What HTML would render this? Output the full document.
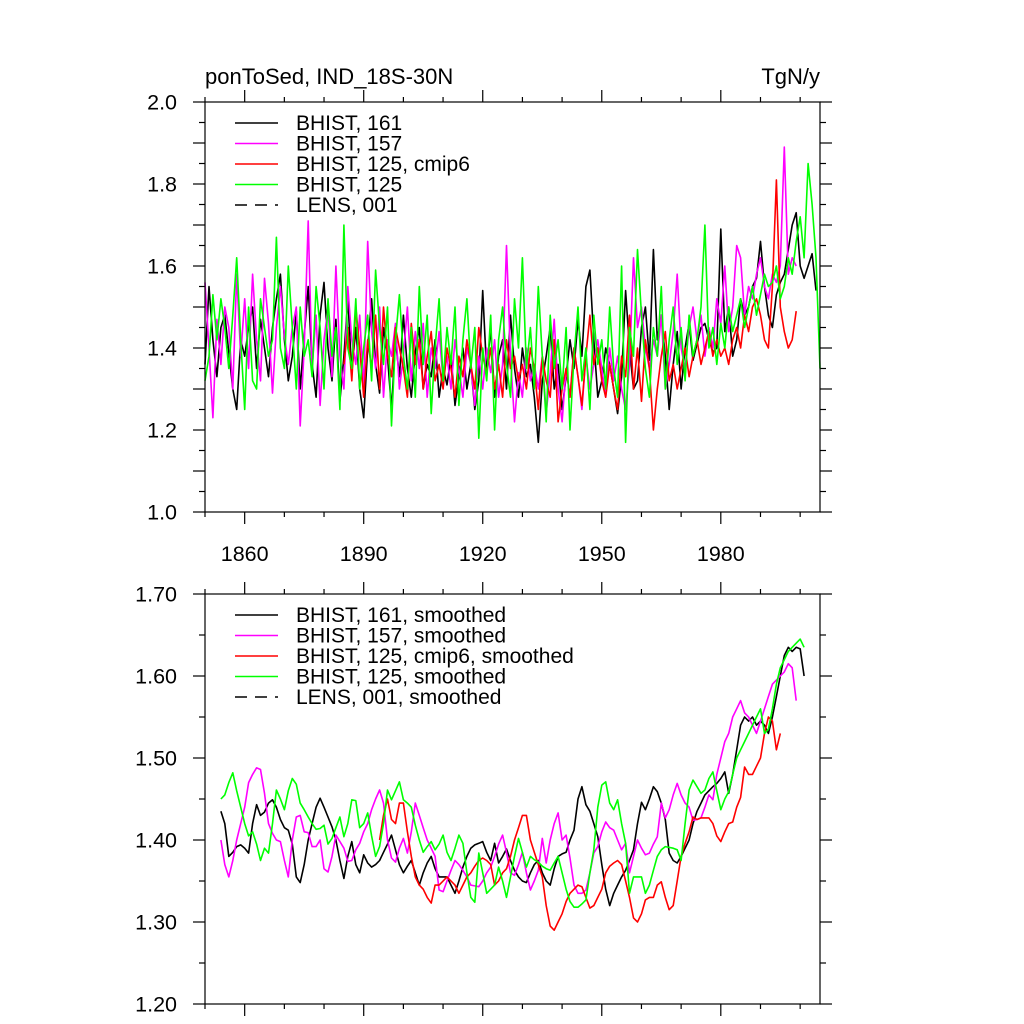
<!DOCTYPE html>
<html><head><meta charset="utf-8"><style>
body{margin:0;background:#fff}
svg{display:block;font-family:"Liberation Sans",sans-serif}
</style></head><body>
<svg id="c" width="1024" height="1024" xmlns="http://www.w3.org/2000/svg"></svg>
<script>
// ---------- data ----------
const topBlackStart=1850;
const topBlack=[1.36,1.55,1.42,1.33,1.45,1.48,1.39,1.30,1.25,1.42,
1.38,1.45,1.50,1.35,1.47,1.40,1.33,1.45,1.52,1.58,
1.42,1.32,1.38,1.49,1.30,1.43,1.55,1.36,1.28,1.48,
1.56,1.40,1.32,1.47,1.27,1.38,1.52,1.34,1.45,1.30,
1.23,1.40,1.52,1.36,1.29,1.45,1.38,1.25,1.42,1.33,
1.48,1.35,1.28,1.39,1.45,1.30,1.36,1.33,1.42,1.28,
1.35,1.31,1.38,1.26,1.33,1.40,1.30,1.36,1.25,1.32,
1.54,1.34,1.45,1.28,1.38,1.42,1.30,1.48,1.35,1.28,
1.40,1.33,1.36,1.28,1.17,1.32,1.38,1.45,1.30,1.36,
1.25,1.33,1.42,1.35,1.47,1.38,1.55,1.59,1.42,1.28,
1.32,1.40,1.36,1.30,1.24,1.33,1.54,1.40,1.30,1.32,
1.45,1.50,1.37,1.64,1.42,1.48,1.38,1.25,1.36,1.44,
1.30,1.40,1.46,1.37,1.41,1.45,1.46,1.42,1.39,1.40,
1.69,1.44,1.50,1.38,1.42,1.52,1.48,1.50,1.55,1.57,
1.66,1.55,1.48,1.45,1.53,1.56,1.58,1.64,1.70,1.73,
1.60,1.57,1.60,1.63,1.54];
const topMagentaStart=1850;
const topMagenta=[1.56,1.40,1.23,1.47,1.36,1.50,1.45,1.30,1.58,1.38,
1.52,1.35,1.58,1.42,1.32,1.57,1.46,1.29,1.45,1.55,
1.43,1.36,1.45,1.50,1.21,1.40,1.71,1.35,1.48,1.26,
1.42,1.50,1.33,1.60,1.38,1.30,1.55,1.42,1.36,1.48,
1.30,1.66,1.44,1.35,1.50,1.28,1.42,1.38,1.46,1.30,
1.38,1.50,1.32,1.44,1.35,1.46,1.28,1.40,1.35,1.44,
1.32,1.38,1.30,1.42,1.35,1.28,1.40,1.36,1.26,1.38,
1.30,1.40,1.34,1.42,1.28,1.36,1.65,1.38,1.22,1.34,
1.28,1.40,1.32,1.36,1.30,1.38,1.24,1.34,1.47,1.30,
1.22,1.35,1.28,1.40,1.33,1.25,1.38,1.30,1.36,1.42,
1.35,1.28,1.40,1.32,1.38,1.30,1.25,1.36,1.62,1.45,
1.50,1.40,1.35,1.42,1.38,1.48,1.30,1.36,1.44,1.58,
1.40,1.35,1.45,1.50,1.42,1.48,1.38,1.45,1.40,1.52,
1.46,1.60,1.44,1.50,1.65,1.62,1.48,1.55,1.52,1.58,
1.62,1.55,1.52,1.58,1.56,1.60,1.89,1.58,1.62,1.60];
const topRedStart=1885;
const topRed=[1.36,1.45,1.32,1.50,1.40,
1.28,1.42,1.35,1.48,1.30,1.50,1.38,1.33,1.45,1.40,
1.35,1.28,1.46,1.36,1.42,1.30,1.38,1.44,1.32,1.36,
1.30,1.40,1.35,1.28,1.38,1.33,1.42,1.36,1.30,1.45,
1.38,1.34,1.40,1.30,1.36,1.28,1.42,1.35,1.38,1.32,
1.36,1.30,1.40,1.35,1.25,1.38,1.32,1.28,1.42,1.22,
1.30,1.35,1.28,1.40,1.33,1.26,1.38,1.48,1.36,1.40,
1.32,1.28,1.36,1.30,1.25,1.38,1.33,1.48,1.30,1.40,
1.27,1.42,1.35,1.20,1.30,1.38,1.44,1.32,1.36,1.30,
1.35,1.40,1.33,1.38,1.42,1.36,1.40,1.44,1.38,1.42,
1.38,1.40,1.36,1.42,1.45,1.40,1.48,1.44,1.50,1.52,
1.48,1.42,1.40,1.55,1.81,1.50,1.44,1.40,1.42,1.49];
const topGreenStart=1850;
const topGreen=[1.32,1.38,1.53,1.42,1.52,1.45,1.35,1.48,1.62,1.42,
1.25,1.50,1.32,1.30,1.52,1.45,1.38,1.42,1.67,1.40,
1.35,1.60,1.45,1.30,1.50,1.38,1.42,1.33,1.55,1.45,
1.30,1.52,1.38,1.45,1.25,1.70,1.40,1.35,1.52,1.30,
1.40,1.48,1.32,1.59,1.45,1.36,1.50,1.21,1.42,1.53,
1.38,1.30,1.45,1.28,1.55,1.36,1.48,1.24,1.40,1.52,
1.32,1.45,1.36,1.50,1.26,1.42,1.52,1.35,1.45,1.18,
1.40,1.32,1.48,1.20,1.42,1.50,1.36,1.28,1.52,1.40,
1.62,1.35,1.45,1.30,1.55,1.38,1.22,1.48,1.35,1.42,
1.30,1.45,1.20,1.38,1.50,1.32,1.40,1.25,1.48,1.36,
1.42,1.30,1.50,1.35,1.28,1.60,1.17,1.45,1.38,1.64,
1.48,1.35,1.28,1.45,1.38,1.55,1.30,1.42,1.50,1.36,
1.45,1.32,1.48,1.38,1.42,1.50,1.70,1.40,1.45,1.36,
1.46,1.40,1.50,1.44,1.48,1.52,1.45,1.50,1.55,1.48,
1.53,1.58,1.55,1.56,1.60,1.52,1.55,1.62,1.58,1.66,
1.72,1.62,1.85,1.75,1.62,1.35];

const botBlackStart=1854;
const botBlack=[1.435,1.420,1.380,1.385,1.392,1.394,
1.390,1.384,1.420,1.443,1.430,1.434,1.445,1.449,1.440,1.425,
1.415,1.412,1.395,1.355,1.348,1.370,1.400,1.420,1.440,1.451,
1.440,1.428,1.416,1.400,1.375,1.353,1.380,1.398,1.370,1.360,
1.382,1.372,1.367,1.370,1.375,1.385,1.395,1.406,1.388,1.370,
1.360,1.368,1.375,1.360,1.345,1.360,1.372,1.380,1.365,1.355,
1.355,1.355,1.345,1.335,1.350,1.367,1.380,1.390,1.394,1.396,
1.398,1.385,1.375,1.396,1.372,1.380,1.389,1.375,1.363,1.355,
1.350,1.348,1.360,1.370,1.375,1.360,1.350,1.345,1.365,1.380,
1.383,1.385,1.400,1.412,1.450,1.465,1.443,1.435,1.420,1.404,
1.370,1.340,1.320,1.335,1.345,1.355,1.363,1.375,1.388,1.420,
1.446,1.437,1.450,1.465,1.459,1.445,1.425,1.384,1.375,1.372,
1.380,1.390,1.400,1.420,1.435,1.445,1.455,1.460,1.465,1.469,
1.475,1.483,1.457,1.480,1.510,1.540,1.550,1.545,1.550,1.540,
1.545,1.540,1.530,1.550,1.575,1.600,1.625,1.635,1.630,1.635,
1.633,1.600];
const botMagentaStart=1854;
const botMagenta=[1.400,1.370,1.355,1.375,1.400,1.420,
1.440,1.470,1.480,1.488,1.486,1.457,1.420,1.408,1.400,1.398,
1.375,1.355,1.400,1.428,1.430,1.410,1.409,1.392,1.392,1.400,
1.365,1.361,1.380,1.406,1.398,1.390,1.374,1.375,1.388,1.396,
1.410,1.420,1.437,1.450,1.461,1.445,1.400,1.378,1.373,1.390,
1.402,1.384,1.410,1.445,1.430,1.415,1.400,1.390,1.380,1.339,
1.337,1.350,1.363,1.375,1.370,1.363,1.355,1.345,1.344,1.343,
1.350,1.360,1.367,1.380,1.395,1.406,1.385,1.360,1.357,1.370,
1.385,1.360,1.339,1.350,1.363,1.402,1.372,1.400,1.420,1.433,
1.400,1.406,1.378,1.345,1.335,1.335,1.339,1.360,1.384,1.392,
1.410,1.422,1.415,1.412,1.400,1.388,1.396,1.360,1.380,1.400,
1.390,1.382,1.384,1.395,1.404,1.445,1.427,1.437,1.455,1.469,
1.455,1.445,1.440,1.424,1.425,1.427,1.440,1.455,1.449,1.480,
1.500,1.520,1.530,1.550,1.560,1.570,1.555,1.550,1.540,1.530,
1.545,1.560,1.575,1.590,1.595,1.600,1.605,1.615,1.610,1.570];
const botRedStart=1894;
const botRed=[1.400,1.430,1.450,1.425,1.420,1.445,
1.445,1.410,1.380,1.355,1.345,1.340,1.330,1.323,1.345,1.345,
1.350,1.355,1.350,1.345,1.335,1.345,1.355,1.360,1.368,1.375,
1.378,1.375,1.370,1.345,1.350,1.360,1.365,1.380,1.400,1.415,
1.430,1.430,1.400,1.385,1.370,1.355,1.320,1.295,1.290,1.300,
1.310,1.325,1.335,1.340,1.345,1.343,1.330,1.317,1.320,1.330,
1.340,1.360,1.368,1.372,1.375,1.370,1.350,1.330,1.305,1.300,
1.310,1.327,1.330,1.330,1.345,1.349,1.330,1.315,1.320,1.350,
1.380,1.396,1.410,1.428,1.425,1.427,1.427,1.427,1.420,1.405,
1.398,1.410,1.420,1.422,1.440,1.452,1.489,1.480,1.480,1.490,
1.500,1.530,1.550,1.545,1.510,1.530];
const botGreenStart=1854;
const botGreen=[1.450,1.455,1.470,1.482,1.460,1.440,
1.420,1.405,1.410,1.395,1.375,1.390,1.384,1.420,1.461,1.450,
1.437,1.460,1.475,1.468,1.445,1.437,1.428,1.420,1.413,1.414,
1.418,1.395,1.402,1.415,1.428,1.404,1.420,1.449,1.448,1.415,
1.420,1.433,1.405,1.380,1.392,1.420,1.461,1.449,1.460,1.471,
1.449,1.445,1.440,1.418,1.400,1.385,1.392,1.398,1.388,1.395,
1.406,1.385,1.375,1.390,1.406,1.396,1.360,1.330,1.324,1.384,
1.360,1.335,1.340,1.345,1.367,1.350,1.330,1.355,1.380,1.402,
1.385,1.367,1.380,1.376,1.373,1.368,1.365,1.363,1.372,1.380,
1.360,1.340,1.325,1.318,1.318,1.322,1.327,1.360,1.388,1.440,
1.467,1.471,1.445,1.437,1.449,1.420,1.396,1.335,1.355,1.355,
1.355,1.335,1.345,1.363,1.380,1.388,1.392,1.391,1.390,1.388,
1.375,1.420,1.461,1.473,1.465,1.457,1.461,1.475,1.483,1.460,
1.437,1.450,1.459,1.480,1.500,1.510,1.520,1.530,1.540,1.550,
1.560,1.530,1.535,1.560,1.590,1.610,1.620,1.630,1.635,1.640,
1.645,1.635];

const xTickYears=[1860,1890,1920,1950,1980];
const topYTicks=["1.0","1.2","1.4","1.6","1.8","2.0"];
const botYTicks=["1.20","1.30","1.40","1.50","1.60","1.70"];
const topLegend=["BHIST, 161","BHIST, 157","BHIST, 125, cmip6","BHIST, 125","LENS, 001"];
const botLegend=["BHIST, 161, smoothed","BHIST, 157, smoothed","BHIST, 125, cmip6, smoothed","BHIST, 125, smoothed","LENS, 001, smoothed"];

// ---------- drawing ----------
const NS="http://www.w3.org/2000/svg";
const svg=document.getElementById('c');
function mk(tag,attrs,parent){const e=document.createElementNS(NS,tag);for(const k in attrs)e.setAttribute(k,attrs[k]);(parent||svg).appendChild(e);return e;}
const X0=205,X1=820,Y0=1850,Y1=2005;
const xs=y=>X0+(y-Y0)/(Y1-Y0)*(X1-X0);
const colors=["#000000","#ff00ff","#ff0000","#00ff00","#000000"];

function panel(name,top,bot,vmin,vmax,yLabels,minorStep,series,legend,showXLabels){
  const g=mk('g',{});
  
  
  const ys=v=>bot-(v-vmin)/(vmax-vmin)*(bot-top);
  const tk=mk('g',{stroke:'#000','stroke-width':1.2},g);
  
  
  for(let yr=1850;yr<=2005;yr+=10){
    const x=xs(yr);const maj=xTickYears.includes(yr);const L=maj?12:5;
    mk('line',{x1:x,x2:x,y1:top,y2:top-L},tk);
    mk('line',{x1:x,x2:x,y1:bot,y2:bot+L},tk);
  }
  const n=Math.round((vmax-vmin)/minorStep);
  for(let i=0;i<=n;i++){
    const v=vmin+i*minorStep;const y=ys(v);const maj=(i%2===0);const L=maj?12:6;
    mk('line',{x1:X0,x2:X0-L,y1:y,y2:y},tk);
    mk('line',{x1:X1,x2:X1+L,y1:y,y2:y},tk);
  }
  yLabels.forEach(s=>{
    const t=mk('text',{x:177,y:ys(parseFloat(s))+7.5,'text-anchor':'end','font-size':21.5},g);
    t.textContent=s;
    
    
  });
  if(showXLabels){
    xTickYears.forEach(yr=>{
      const t=mk('text',{x:xs(yr),y:561,'text-anchor':'middle','font-size':21.5},g);
      t.textContent=yr;
      
      
    });
  }
  series.forEach((s,k)=>{
    const pts=s.vals.map((v,i)=>xs(s.start+i).toFixed(1)+','+ys(v).toFixed(1)).join(' ');
    const p=mk('polyline',{points:pts,fill:'none',stroke:colors[k],'stroke-width':1.6,'stroke-linejoin':'round'},g);
    
    
  });
  const f=mk('rect',{x:X0,y:top,width:X1-X0,height:bot-top,fill:'none',stroke:'#000','stroke-width':1.2},g);
  
  
  const lg=mk('g',{},g);
  
  
  legend.forEach((s,i)=>{
    const y=top+21+i*20.5;
    const l=mk('line',{x1:235,x2:278,y1:y,y2:y,stroke:colors[i],'stroke-width':1.6},lg);
    if(i===4)l.setAttribute('stroke-dasharray','12,8');
    
    
    const t=mk('text',{x:296,y:y+7,'font-size':21},lg);
    t.textContent=s;
    
    
  });
}

panel('top-panel',102,512,1.0,2.0,topYTicks,0.05,[
  {name:'bhist-161',start:topBlackStart,vals:topBlack},
  {name:'bhist-157',start:topMagentaStart,vals:topMagenta},
  {name:'bhist-125-cmip6',start:topRedStart,vals:topRed},
  {name:'bhist-125',start:topGreenStart,vals:topGreen}],topLegend,true);
panel('bottom-panel',594,1004,1.2,1.7,botYTicks,0.05,[
  {name:'bhist-161-smoothed',start:botBlackStart,vals:botBlack},
  {name:'bhist-157-smoothed',start:botMagentaStart,vals:botMagenta},
  {name:'bhist-125-cmip6-smoothed',start:botRedStart,vals:botRed},
  {name:'bhist-125-smoothed',start:botGreenStart,vals:botGreen}],botLegend,false);

const t1=mk('text',{x:205,y:84,'font-size':22});
t1.textContent='ponToSed, IND_18S-30N';


const t2=mk('text',{x:820,y:84,'font-size':22,'text-anchor':'end'});
t2.textContent='TgN/y';


</script>
</body></html>
